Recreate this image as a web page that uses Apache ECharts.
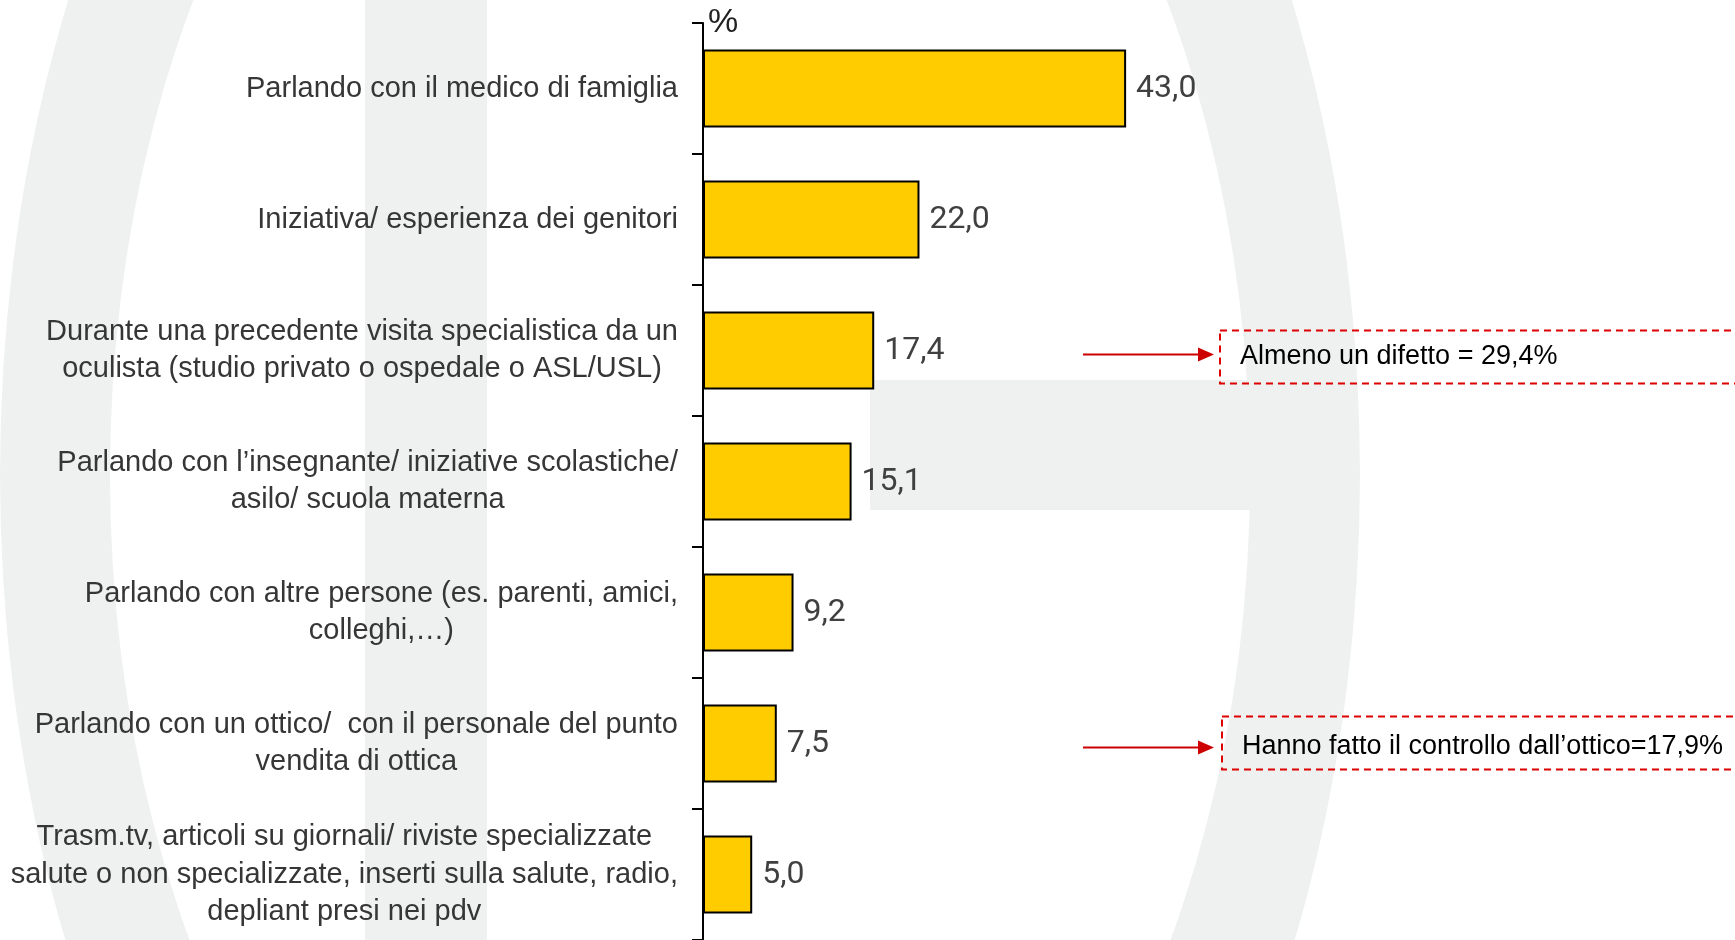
<html>
<head>
    <meta charset="utf-8">
    <title>Fonti di informazione</title>
    <script src="https://cdn.jsdelivr.net/npm/echarts@6/dist/echarts.min.js"></script>
    <style>
        html, body { margin: 0; padding: 0; background: #fff; }
    </style>
</head>
<body>
    <div id="main" style="width: 1735px;height:940px"></div>
    <script>
        // dati (dall'alto verso il basso)
        var categories = [
            'Parlando con il medico di famiglia',
            'Iniziativa/ esperienza dei genitori',
            'Durante una precedente visita specialistica da un\noculista (studio privato o ospedale o ASL/USL)',
            'Parlando con l\u2019insegnante/ iniziative scolastiche/\nasilo/ scuola materna',
            'Parlando con altre persone (es. parenti, amici,\ncolleghi,\u2026)',
            'Parlando con un ottico/  con il personale del punto\nvendita di ottica',
            'Trasm.tv, articoli su giornali/ riviste specializzate\nsalute o non specializzate, inserti sulla salute, radio,\ndepliant presi nei pdv'
        ];
        var values = [43.0, 22.0, 17.4, 15.1, 9.2, 7.5, 5.0];
        var unitName = '%';

        // note a destra, legate alle categorie
        var notes = [
            { category: 2, text: 'Almeno un difetto = 29,4%' },
            { category: 5, text: 'Hanno fatto il controllo dall\u2019ottico=17,9%' }
        ];

        var myChart = echarts.init(document.getElementById('main'));

        var labelFont = '"Liberation Sans Narrow", "Liberation Sans", sans-serif';
        var bgGray = '#eff1f0';

        option = {
            animation: false,
            backgroundColor: '#fff',
            grid: {
                left: 703,
                right: 48,
                top: 23,
                height: 922,
                containLabel: false
            },
            xAxis: {
                type: 'value',
                min: 0,
                max: 100,
                show: false
            },
            yAxis: {
                type: 'category',
                inverse: true,
                data: categories,
                axisLine: { lineStyle: { color: '#000', width: 2 } },
                axisTick: { show: true, inside: false, length: 11, lineStyle: { color: '#000', width: 2 } },
                axisLabel: {
                    margin: 25,
                    formatter: function (value) {
                        return value.split('\n').map(function (l) {
                            return '{c|' + l + '}';
                        }).join('\n');
                    },
                    rich: {
                        c: {
                            align: 'center',
                            fontFamily: labelFont,
                            fontSize: 29,
                            lineHeight: 37.6,
                            color: '#363636'
                        }
                    }
                }
            },
            series: [
                {
                    type: 'bar',
                    data: values,
                    barWidth: 78,
                    itemStyle: {
                        color: '#ffcc00',
                        borderColor: '#000',
                        borderWidth: 2
                    },
                    label: {
                        show: true,
                        position: 'right',
                        distance: 10,
                        fontFamily: 'Roboto, sans-serif',
                        fontSize: 32,
                        color: '#404040',
                        formatter: function (p) {
                            return p.value.toFixed(1).replace('.', ',');
                        }
                    }
                }
            ]
        };
        myChart.setOption(option);

        // sfondo (logo sbiadito) e riquadri con freccia
        var graphics = [
            {
                type: 'ring', z: -10, silent: true,
                x: 680, y: 475, scaleY: 1.6,
                shape: { cx: 0, cy: 0, r: 680, r0: 570 },
                style: { fill: bgGray }
            },
            {
                type: 'rect', z: -10, silent: true,
                shape: { x: 365, y: 0, width: 122, height: 940 },
                style: { fill: bgGray }
            },
            {
                type: 'rect', z: -10, silent: true,
                shape: { x: 870, y: 380, width: 400, height: 130 },
                style: { fill: bgGray }
            }
        ];

        // unita' di misura in cima all'asse
        graphics.push({
            type: 'text',
            style: {
                x: 708, y: 23,
                text: unitName,
                font: '34px "Liberation Sans", sans-serif',
                fill: '#222',
                verticalAlign: 'middle'
            }
        });

        var boxOffset = [[-20, 6, 1220], [-27, 3, 1222]];
        notes.forEach(function (n, i) {
            var y = myChart.convertToPixel({ yAxisIndex: 0 }, categories[n.category]);
            var off = boxOffset[i];
            var ay = y + 4;
            graphics.push({
                type: 'rect',
                shape: { x: off[2], y: y + off[0], width: 600, height: 53 },
                style: { fill: 'rgba(255,255,255,0)', stroke: '#dd0000', lineWidth: 2, lineDash: [7, 5] }
            });
            graphics.push({
                type: 'line',
                shape: { x1: 1083, y1: ay, x2: 1200, y2: ay },
                style: { stroke: '#cc0000', lineWidth: 2 }
            });
            graphics.push({
                type: 'polygon',
                shape: { points: [[1198, ay - 7], [1214, ay], [1198, ay + 7]] },
                style: { fill: '#cc0000' }
            });
            graphics.push({
                type: 'text',
                style: {
                    x: off[2] + 20, y: y + off[1],
                    text: n.text,
                    fontFamily: labelFont,
                    fontSize: 27,
                    fill: '#000',
                    verticalAlign: 'middle'
                }
            });
        });

        myChart.setOption({ graphic: graphics });
    </script>
</body>
</html>
